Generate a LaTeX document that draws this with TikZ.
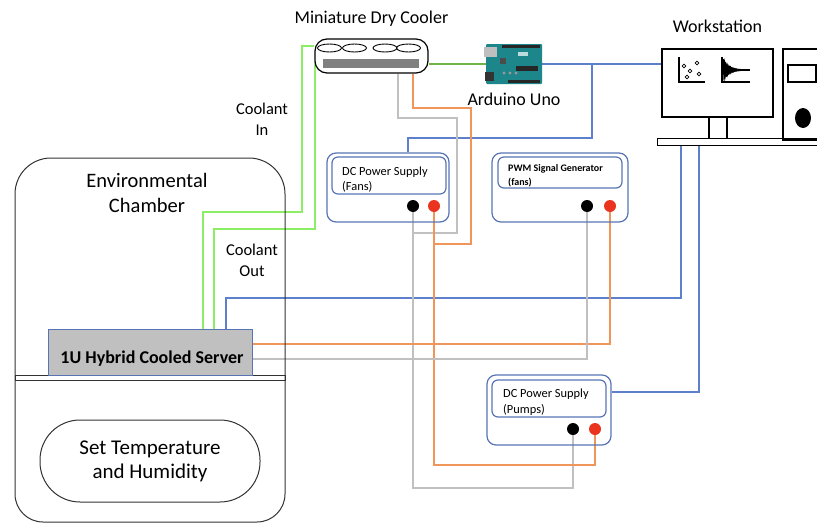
\documentclass[tikz,border=0pt]{standalone}
\usepackage{fontspec}
\setmainfont{Carlito}
\usetikzlibrary{positioning}
\definecolor{boxblue}{RGB}{88,116,180}
\definecolor{wireblue}{RGB}{92,128,204}
\definecolor{wiregray}{RGB}{192,192,192}
\definecolor{wireorng}{RGB}{240,150,90}
\definecolor{coolgreen}{RGB}{140,238,100}
\definecolor{siggreen}{RGB}{112,180,70}
\definecolor{termred}{RGB}{234,52,32}
\definecolor{srvgray}{RGB}{192,192,192}
\definecolor{ardteal}{RGB}{28,134,138}
\definecolor{darkline}{RGB}{50,50,50}

\pgfdeclarelayer{wires}
\pgfsetlayers{wires,main}

\tikzset{
  wire/.style={line width=1.3pt},
  wblue/.style={wire, draw=wireblue},
  wgray/.style={wire, draw=wiregray},
  worng/.style={wire, draw=wireorng},
  wcool/.style={wire, draw=coolgreen},
  wsig/.style={wire, draw=siggreen},
  psu/.style={draw=boxblue, line width=1.2pt, rounded corners=9pt, inner sep=0pt},
  panel/.style={draw=boxblue, line width=1.2pt, rounded corners=6pt, inner sep=0pt},
  term/.style={circle, minimum size=12pt, inner sep=0pt},
  lbl/.style={inner sep=0pt, align=center},
}

\begin{document}
\begin{tikzpicture}[x=1pt, y=-1pt]
    \useasboundingbox (0,0) rectangle (817,525);

    % 1. environmental chamber with shelf and controller
    \draw[darkline, line width=1pt] (15,340) [rounded corners=36pt] |- (150,158) -| (285,340)
        [rounded corners=28pt] |- (150,522) -| cycle;
    \node (chamLbl) at (147,193) [lbl, font=\fontsize{20.5}{25}\selectfont] {Environmental\\Chamber};
    \draw[darkline, line width=0.9pt] (15,375.5) rectangle (285,380);
    \node (srv) at (150,352) [draw=boxblue, fill=srvgray, line width=1pt,
        minimum width=204pt, minimum height=46pt] {};
    \node (srvLbl) at (152,359) [lbl, font=\fontsize{18}{20}\selectfont\bfseries] {1U Hybrid Cooled Server};
    \node (ctrl) at (150,461) [draw=darkline, line width=1pt, rounded corners=40pt,
        minimum width=220pt, minimum height=82pt, lbl,
        font=\fontsize{21}{24}\selectfont] {Set Temperature\\and Humidity};

    % 2. dry cooler with its fans and radiator bar
    \node (cooler) at (371.5,56) [draw=black, line width=1.2pt, rounded corners=12pt,
        minimum width=113pt, minimum height=34pt] {};
    \node (coolLbl) [above=12pt of cooler, lbl, font=\fontsize{18}{20}\selectfont] {Miniature Dry Cooler};
    \foreach \cx in {329.5,354.5,385,408.5}
        \draw[line width=0.9pt] (\cx,48) ellipse [x radius=12pt, y radius=4pt];
    \fill[black!50] (323,59) rectangle (419,68);

    % 3. arduino board
    \node (ardu) at (514,64) [fill=ardteal, minimum width=56pt, minimum height=40pt, rounded corners=1pt] {};
    \begin{scope}[shift={(ardu.center)}]
        \fill[black!25] (-30,-17) rectangle (-17,-7);
        \fill[black!80] (-29,8) rectangle (-20,17);
        \fill[black!85] (-12,-19) rectangle (26,-16);
        \fill[black!85] (-6,16) rectangle (26,19);
        \fill[black!85] (2,2) rectangle (24,7);
        \fill[black!70] (-14,-6) rectangle (-8,0);
        \fill[white!70!ardteal] (4,-12) rectangle (14,-8);
        \foreach \dx in {-10,-4,2}
            \fill[black!40] (\dx,9) circle (1.6pt);
    \end{scope}
    \node (arduLbl) [below=9pt of ardu, lbl, font=\fontsize{18}{20}\selectfont] {Arduino Uno};

    % 4. workstation: monitor, stand, desk and tower
    \node (mon) at (717.5,83) [draw, line width=1.2pt, minimum width=111pt, minimum height=68pt] {};
    \node (stand) at (718,128.5) [draw, line width=1.2pt, minimum width=18pt, minimum height=23pt] {};
    \node (desk) at (741,142) [draw, line width=1pt, fill=white, minimum width=168pt, minimum height=4pt] {};
    \node (tower) at (806.5,94.5) [draw, line width=1.2pt, minimum width=47pt, minimum height=91pt] {};
    \node (wsLbl) [above=16pt of mon, lbl, font=\fontsize{18}{20}\selectfont] {Workstation};
    \draw[line width=1.2pt] (788,65) rectangle (816,82);
    \fill (803,118) ellipse [x radius=8pt, y radius=10pt];
    % scatter plot icon
    \draw[line width=1.6pt] (679,57) |- (705,82);
    \foreach \px/\py in {684/66, 697/63, 690/71, 699/74, 687/77}
        \draw[line width=0.8pt] (\px,\py) circle (1.9pt);
    % damped signal icon
    \draw[line width=1.6pt] (722,57) |- (750,82);
    \draw[line width=2pt] (722,70) -- (750,70);
    \draw[line width=0.9pt] plot[domain=0:26, samples=400] ({723+\x}, {70-11*exp(-\x/6)*sin(\x*300)});

    % 5. power supplies and signal generator
    \node (fanPsu) at (388,187.5) [psu, minimum width=122pt, minimum height=69pt] {};
    \node (fanPnl) at (389,175.5) [panel, minimum width=114pt, minimum height=37pt] {};
    \node (fanLbl) at (342,179.5) [anchor=west, inner sep=0pt, align=left,
        font=\fontsize{12.4}{15.5}\selectfont] {DC Power Supply\\(Fans)};
    \node (fanBlk) at (413,206) [term, fill=black] {};
    \node (fanRed) at (434,206) [term, fill=termred] {};

    \node (pwm) at (560,187.5) [psu, minimum width=136pt, minimum height=69pt] {};
    \node (pwmPnl) at (560,172.5) [panel, minimum width=124pt, minimum height=31pt] {};
    \node (pwmLbl) at (508,176) [anchor=west, inner sep=0pt, align=left,
        font=\fontsize{10}{14}\selectfont\bfseries] {PWM Signal Generator\\(fans)};
    \node (pwmBlk) at (587,206) [term, fill=black] {};
    \node (pwmRed) at (610,206) [term, fill=termred] {};

    \node (pmpPsu) at (549,410) [psu, minimum width=124pt, minimum height=70pt] {};
    \node (pmpPnl) at (549,398.5) [panel, minimum width=114pt, minimum height=37pt] {};
    \node (pmpLbl) at (503,402) [anchor=west, inner sep=0pt, align=left,
        font=\fontsize{12.4}{15.5}\selectfont] {DC Power Supply\\(Pumps)};
    \node (pmpBlk) at (573,429) [term, fill=black] {};
    \node (pmpRed) at (595,429) [term, fill=termred] {};

    % 6. coolant loop labels
    \node (inLbl) at (262,119.5) [lbl, font=\fontsize{16.5}{21}\selectfont] {Coolant\\In};
    \node (outLbl) at (252,260.5) [lbl, font=\fontsize{16.5}{21}\selectfont] {Coolant\\Out};

    % 7. wiring, kept behind the boxes and terminals
    \begin{pgfonlayer}{wires}
        % coolant lines
        \draw[wcool] (cooler.west |- 0,46) -| (302,212) -| (srv.north -| 203,0);
        \draw[wcool] (315,62) |- (214,229) -- (srv.north -| 214,0);
        % data lines
        \draw[wsig] (cooler.east |- ardu.west) -- (ardu.west);
        \draw[wblue] (ardu.east) -- (ardu.east -| mon.west);
        \draw[wblue] (ardu.east -| 592,0) |- (408,138) -- (fanPsu.north -| 408,0);
        \draw[wblue] (desk.south -| 681,0) |- (226,298) -- (srv.north -| 226,0);
        \draw[wblue] (desk.south -| 699,0) |- (pmpPsu.east |- 0,392);
        % fan supply to cooler and pumps
        \draw[wgray] (cooler.south -| 398,0) |- (457,118) |- (fanBlk.center |- 0,233);
        \draw[worng] (cooler.south -| 413,0) |- (471,108) |- (fanRed.center |- 0,244);
        \draw[wgray] (fanBlk.center) |- (pmpBlk.center |- 0,488) -- (pmpBlk.center);
        \draw[worng] (fanRed.center) |- (pmpRed.center |- 0,465) -- (pmpRed.center);
        % pwm signal to server
        \draw[worng] (srv.east |- 0,344) -| (pwmRed.center);
        \draw[wgray] (srv.east |- 0,359) -| (pwmBlk.center);
    \end{pgfonlayer}

\end{tikzpicture}
\end{document}
